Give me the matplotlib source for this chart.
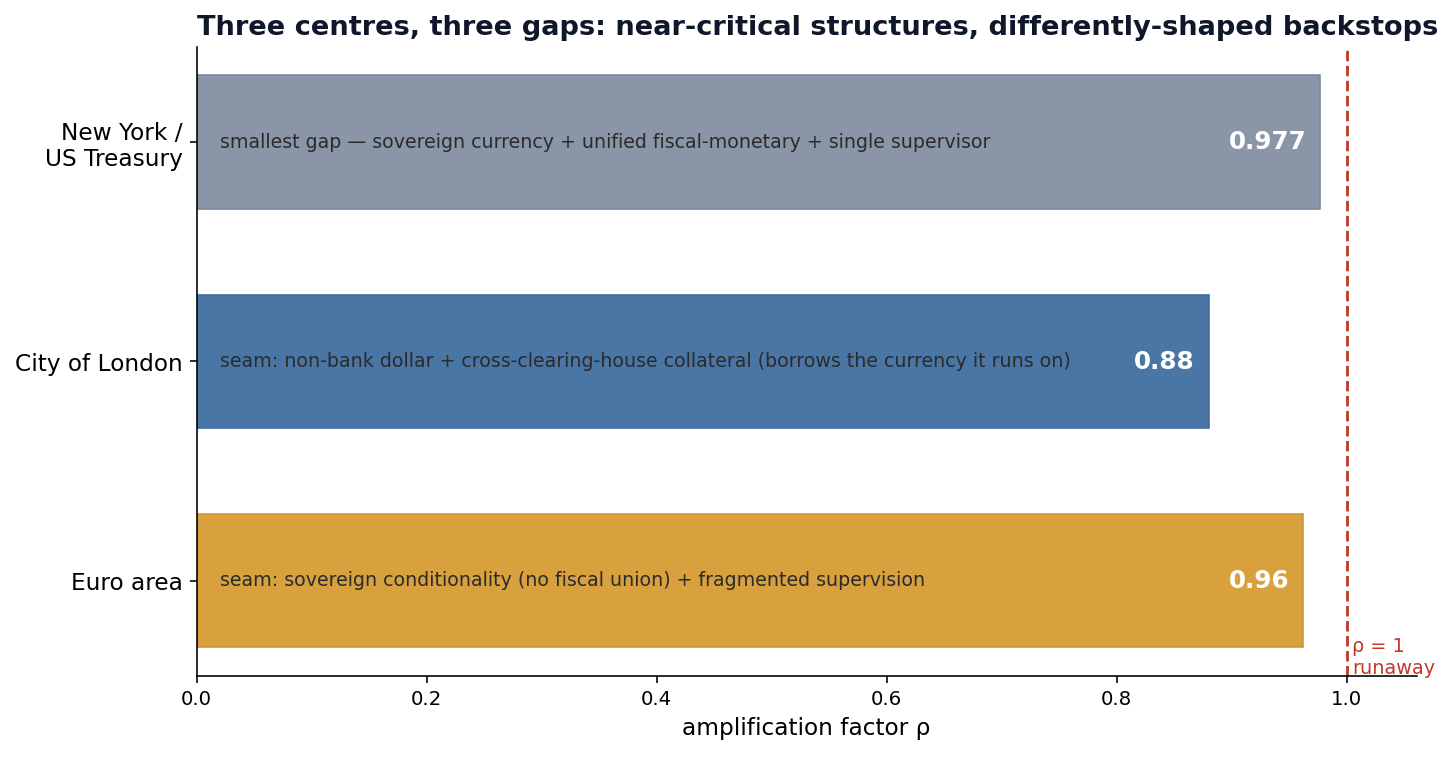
import matplotlib
matplotlib.use("Agg")
import matplotlib.pyplot as plt
import matplotlib.transforms as mtransforms

# data
centres = ["New York /\nUS Treasury", "City of London", "Euro area"]
rho = [0.977, 0.88, 0.962]
value_labels = ["0.977", "0.88", "0.96"]
notes = [
    "smallest gap \u2014 sovereign currency + unified fiscal-monetary + single supervisor",
    "seam: non-bank dollar + cross-clearing-house collateral (borrows the currency it runs on)",
    "seam: sovereign conditionality (no fiscal union) + fragmented supervision",
]
colors = ["#8a96a8", "#4a76a6", "#d8a13e"]
edges = ["#7a879b", "#3f6a99", "#d0962e"]

fig, ax = plt.subplots(figsize=(10, 5.2), dpi=145.6)
fig.subplots_adjust(left=0.135, right=0.973, top=0.938, bottom=0.107)

ypos = list(range(len(centres)))
ax.barh(ypos, rho, height=0.61, color=colors, edgecolor=edges, linewidth=0.8)
ax.invert_yaxis()

for y, v, lab, note in zip(ypos, rho, value_labels, notes):
    ax.text(0.02, y, note, ha="left", va="center", fontsize=9.4, color="#2b2b2b")
    ax.text(v - 0.012, y, lab, ha="right", va="center", fontsize=12.2,
            fontweight="bold", color="white")

# critical threshold
ax.axvline(1.0, color="#c0392b", linestyle="--", linewidth=1.4)
trans = mtransforms.blended_transform_factory(ax.transData, ax.transAxes)
ax.text(1.005, -0.003, "\u03c1 = 1\nrunaway", color="#c0392b", fontsize=9.5,
        ha="left", va="bottom", transform=trans)

ax.set_yticks(ypos)
ax.set_yticklabels(centres, fontsize=11.5)
ax.set_xlim(0, 1.061)
ax.set_xlabel("amplification factor \u03c1", fontsize=11.5)
ax.tick_params(axis="x", labelsize=9.8)
ax.spines["top"].set_visible(False)
ax.spines["right"].set_visible(False)
ax.set_title("Three centres, three gaps: near-critical structures, differently-shaped backstops",
             loc="left", fontsize=13.5, fontweight="bold", color="#0f172a")

fig.savefig("out.png", dpi=145.6)
